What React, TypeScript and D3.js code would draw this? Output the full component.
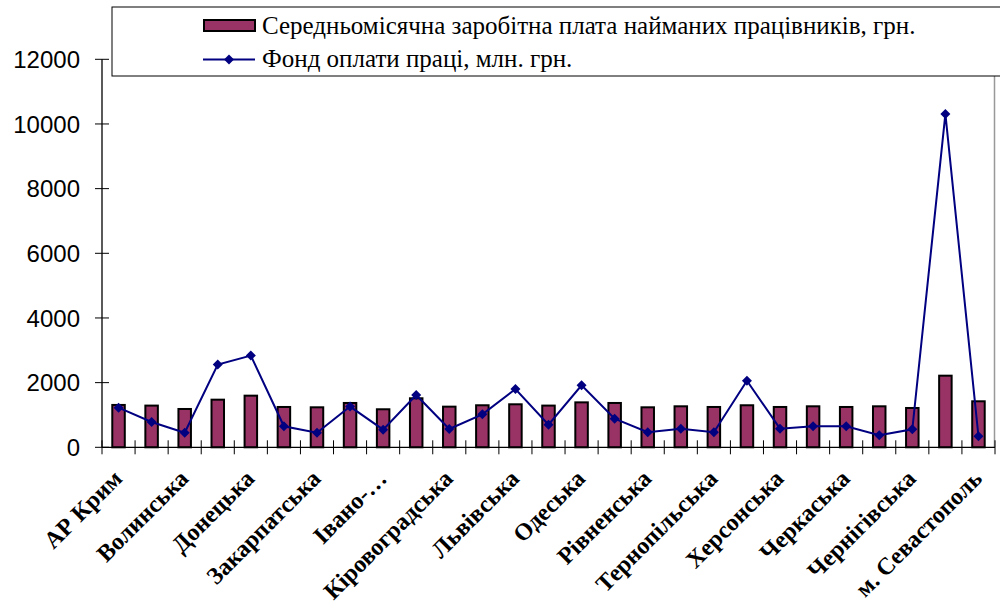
import React from "react";
import * as d3 from "d3";

const categories = [
  "АР Крим", "Вінницька", "Волинська", "Дніпропетровська", "Донецька", "Житомирська",
  "Закарпатська", "Запорізька", "Івано-…", "Київська", "Кіровоградська", "Луганська",
  "Львівська", "Миколаївська", "Одеська", "Полтавська", "Рівненська", "Сумська",
  "Тернопільська", "Харківська", "Херсонська", "Хмельницька", "Черкаська", "Чернівецька",
  "Чернігівська", "м. Київ", "м. Севастополь",
];
const avgSalary = [
  1310, 1290, 1185, 1473, 1597, 1247, 1237, 1371, 1176, 1516, 1257, 1300, 1330, 1290,
  1390, 1371, 1237, 1268, 1247, 1300, 1247, 1268, 1247, 1268, 1216, 2215, 1423,
];
const wageFund = [
  1226, 783, 452, 2557, 2836, 650, 452, 1260, 545, 1619, 566, 1020, 1803, 700, 1918,
  885, 464, 576, 464, 2060, 576, 650, 650, 371, 557, 10310, 340,
];
const yTicks = [0, 2000, 4000, 6000, 8000, 10000, 12000];
const legendLabels = [
  "Середньомісячна заробітна плата найманих працівників, грн.",
  "Фонд оплати праці, млн. грн.",
];

const W = 1000;
const H = 604;
const left = 102;
const right = 995;
const top = 59.3;
const bottom = 447.3;

const BAR = "#993366";
const LINE = "#000080";
const SERIF = "'Liberation Serif', 'Times New Roman', 'DejaVu Serif', serif";
const SANS = "'Liberation Sans', Arial, sans-serif";

function diamond(cx: number, cy: number, r: number) {
  return `M${cx},${cy - r}L${cx + r},${cy}L${cx},${cy + r}L${cx - r},${cy}Z`;
}

export default function App() {
  const x = d3.scaleBand<number>().domain(d3.range(categories.length)).range([left, right]).padding(0);
  const y = d3.scaleLinear().domain([0, 12000]).range([bottom, top]);
  const bw = 12.5;
  const cx = (i: number) => (x(i) as number) + x.bandwidth() / 2;
  const line = d3
    .line<number>()
    .x((_, i) => cx(i))
    .y((d) => y(d));
  const boundaries = d3.range(categories.length + 1).map((i) => left + i * x.bandwidth());

  return (
    <svg
      width={W}
      height={H}
      style={{ position: "absolute", left: 0, top: 0, background: "#fff" }}
    >
      <rect x={0} y={0} width={W} height={H} fill="#fff" />
      <line x1={994.5} x2={994.5} y1={76} y2={bottom} stroke="#999" strokeWidth={1.5} />

      {avgSalary.map((v, i) => (
        <rect
          key={i}
          x={cx(i) - bw / 2}
          y={y(v)}
          width={bw}
          height={bottom - y(v)}
          fill={BAR}
          stroke="#000"
          strokeWidth={2}
        />
      ))}

      <line x1={left} x2={left} y1={top} y2={bottom} stroke="#000" strokeWidth={1.3} />
      <line x1={left} x2={right} y1={bottom} y2={bottom} stroke="#000" strokeWidth={1.3} />
      {yTicks.map((t) => (
        <g key={t}>
          <line x1={left - 7} x2={left + 7} y1={y(t)} y2={y(t)} stroke="#000" strokeWidth={1} />
          <text
            x={80}
            y={y(t)}
            dy="0.36em"
            textAnchor="end"
            style={{ fontFamily: SANS, fontSize: 24 }}
            fill="#000"
          >
            {t}
          </text>
        </g>
      ))}
      {boundaries.map((b, i) => (
        <line key={i} x1={b} x2={b} y1={bottom - 7} y2={bottom + 7} stroke="#000" strokeWidth={1} />
      ))}

      <path d={line(wageFund) || ""} fill="none" stroke={LINE} strokeWidth={2} />
      {wageFund.map((v, i) => (
        <path key={i} d={diamond(cx(i), y(v), 5)} fill={LINE} />
      ))}

      {categories.map((c, i) =>
        i % 2 === 0 ? (
          <text
            key={i}
            transform={`translate(${cx(i) + 5},${480}) rotate(-45)`}
            textAnchor="end"
            style={{ fontFamily: SERIF, fontWeight: "bold", fontSize: 24 }}
            fill="#000"
          >
            {c}
          </text>
        ) : null
      )}

      <rect x={112} y={7} width={900} height={69} fill="#fff" stroke="#000" strokeWidth={1} />
      <rect x={204} y={20} width={51} height={11} fill={BAR} stroke="#000" strokeWidth={2} />
      <line x1={203} x2={255} y1={59.5} y2={59.5} stroke={LINE} strokeWidth={2} />
      <path d={diamond(229, 59.5, 5)} fill={LINE} />
      {legendLabels.map((l, i) => (
        <text
          key={i}
          x={262}
          y={34 + i * 33}
          style={{ fontFamily: SERIF, fontSize: 25 }}
          fill="#000"
        >
          {l}
        </text>
      ))}
    </svg>
  );
}
